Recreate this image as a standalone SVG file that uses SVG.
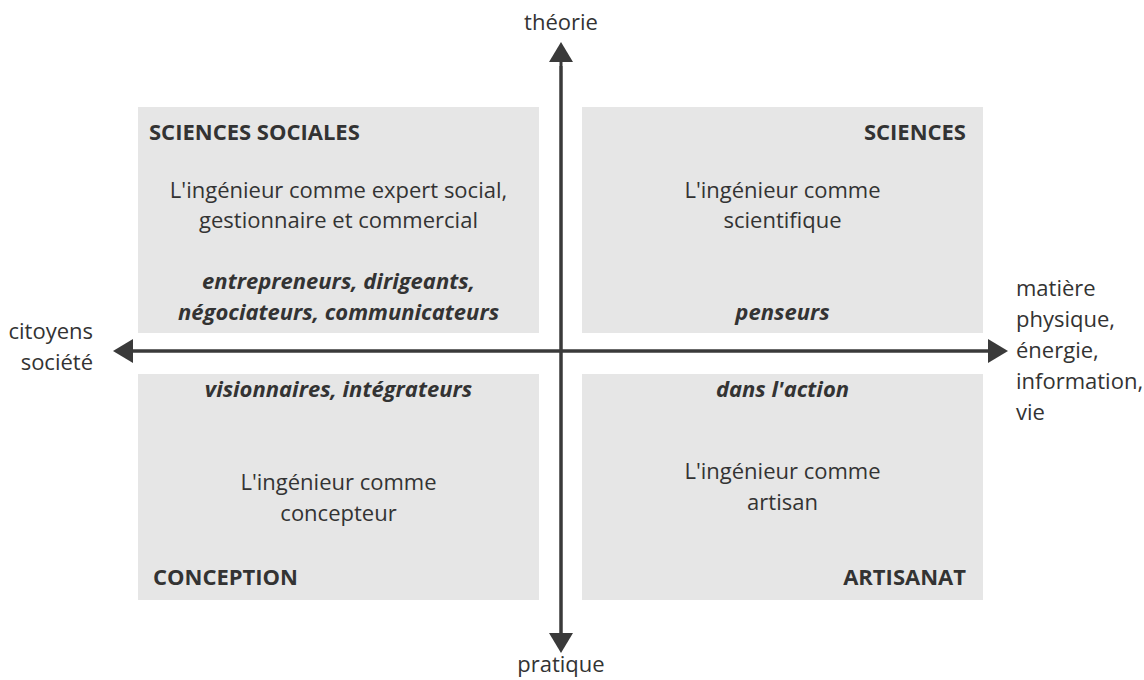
<svg xmlns="http://www.w3.org/2000/svg" width="1144" height="680" viewBox="0 0 1144 680">
<style>
text{font-family:"Open Sans","Noto Sans","DejaVu Sans",sans-serif;font-size:22px;fill:#333}
.t{font-weight:bold}
.bi{font-weight:bold;font-style:italic}
.c{text-anchor:middle}
.r{text-anchor:end}
.box{fill:#e6e6e6}
.ax{stroke:#3a3a3a;stroke-width:3;fill:none}
</style>
<defs>
<marker id="ah" viewBox="0 0 20 24" refX="2" refY="12" markerWidth="20" markerHeight="24" markerUnits="userSpaceOnUse" orient="auto">
<path d="M0,0 L20,12 L0,24 Z" fill="#3a3a3a"/>
</marker>
</defs>
<rect width="1144" height="680" fill="#fff"/>
<g id="q-sciences-sociales">
<rect class="box" x="138" y="107" width="401" height="226"/>
<text class="t" x="149" y="140">SCIENCES SOCIALES</text>
<text class="c" x="338.5" y="198">L'ingénieur comme expert social,</text>
<text class="c" x="338.5" y="228">gestionnaire et commercial</text>
<text class="bi c" x="338.5" y="289">entrepreneurs, dirigeants,</text>
<text class="bi c" x="338.5" y="320">négociateurs, communicateurs</text>
</g>
<g id="q-sciences">
<rect class="box" x="582" y="107" width="401" height="226"/>
<text class="t r" x="966" y="140">SCIENCES</text>
<text class="c" x="782.5" y="198">L'ingénieur comme</text>
<text class="c" x="782.5" y="228">scientifique</text>
<text class="bi c" x="782.5" y="320">penseurs</text>
</g>
<g id="q-conception">
<rect class="box" x="138" y="374" width="401" height="226"/>
<text class="bi c" x="338.5" y="397">visionnaires, intégrateurs</text>
<text class="c" x="338.5" y="490">L'ingénieur comme</text>
<text class="c" x="338.5" y="521">concepteur</text>
<text class="t" x="153" y="585">CONCEPTION</text>
</g>
<g id="q-artisanat">
<rect class="box" x="582" y="374" width="401" height="226"/>
<text class="bi c" x="782.5" y="397">dans l'action</text>
<text class="c" x="782.5" y="479">L'ingénieur comme</text>
<text class="c" x="782.5" y="510">artisan</text>
<text class="t r" x="966" y="585">ARTISANAT</text>
</g>
<g id="axes">
<line class="ax" x1="561" y1="636" x2="561" y2="60" marker-end="url(#ah)"/>
<line class="ax" x1="561" y1="66" x2="561" y2="635" marker-end="url(#ah)"/>
<line class="ax" x1="990" y1="351" x2="131" y2="351" marker-end="url(#ah)"/>
<line class="ax" x1="131" y1="351" x2="990" y2="351" marker-end="url(#ah)"/>
</g>
<g id="axis-labels">
<text class="c" x="561" y="30">théorie</text>
<text class="c" x="561" y="672">pratique</text>
<text class="r" x="93" y="339">citoyens</text>
<text class="r" x="93" y="370">société</text>
<text x="1016" y="296">matière</text>
<text x="1016" y="327">physique,</text>
<text x="1016" y="358">énergie,</text>
<text x="1016" y="389">information,</text>
<text x="1016" y="420">vie</text>
</g>
</svg>
